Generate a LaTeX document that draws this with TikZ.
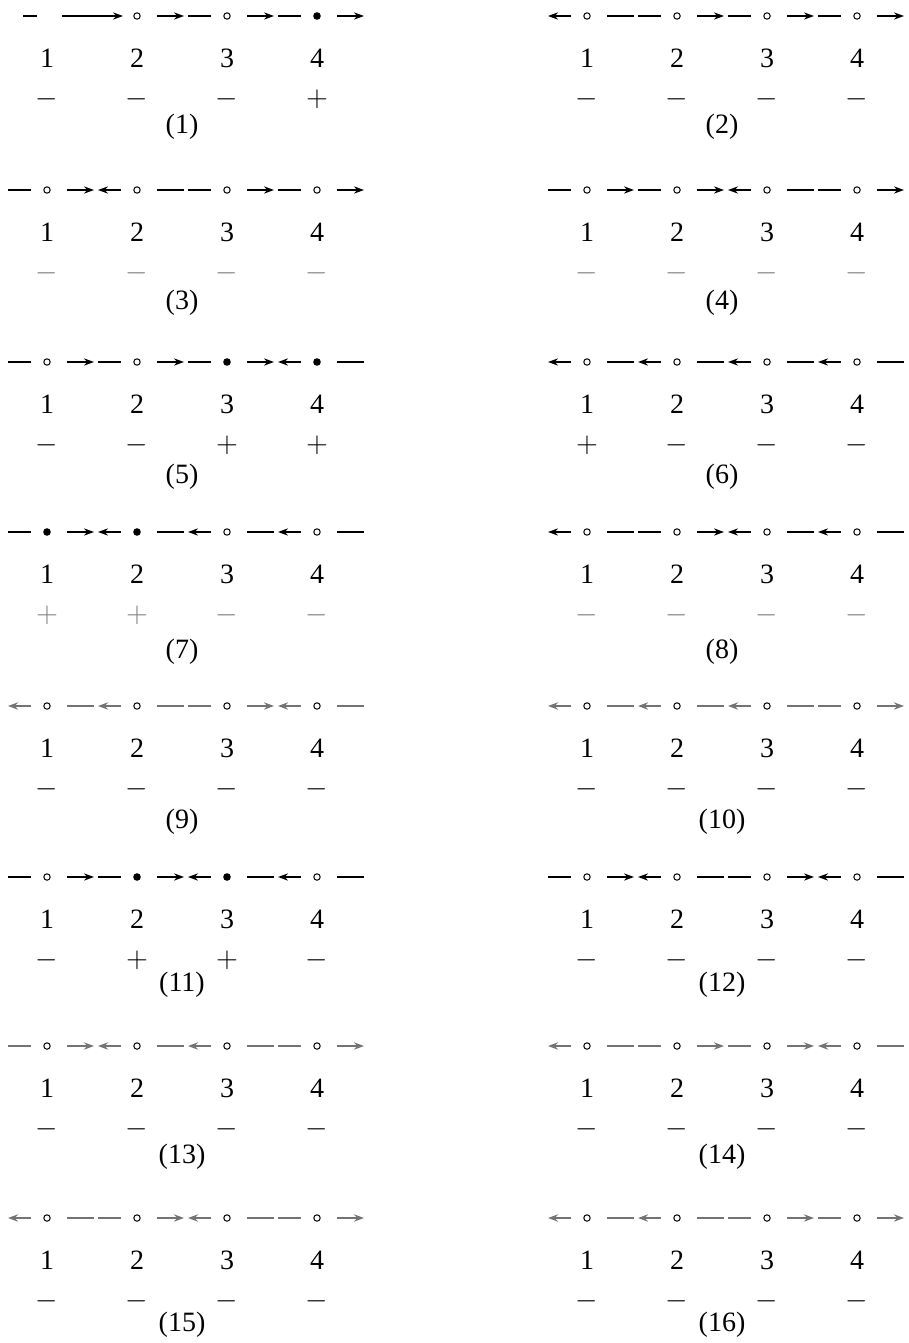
\documentclass[tikz,border=0pt]{standalone}
\usepackage{fontspec}
\setmainfont{Liberation Serif}
\usepackage{tikz}
\usetikzlibrary{arrows.meta,calc}

\tikzset{
  seg/.style={line width=0.65pt},
  sgn/.style={},
  half p/.style={seg},
  half a/.style={seg,->},
  half n/.style={draw=none},
  site o/.style={circle,draw,inner sep=0pt,minimum size=3.2pt,line width=0.5pt},
  site f/.style={circle,fill,inner sep=0pt,minimum size=3.8pt},
  site n/.style={inner sep=0pt,minimum size=0pt},
}

% #2 panel number, #3 first site, #4 label drop, #5 sites dot/left/right/sign
\newcommand{\flowpanel}[5][]{%
  \begin{scope}[#1]
    \foreach \dt/\lh/\rh/\sg [count=\i] in {#5} {
      \node[site \dt] (p#2s\i) at ($#3+(90*\i-90,0)$) {};
      \draw[half \lh] ($(p#2s\i)+(-16,0)$) -- ($(p#2s\i)+(-39,0)$);
      \draw[half \rh] ($(p#2s\i)+(20,0)$) -- ($(p#2s\i)+(47,0)$);
      \node (p#2n\i) at ($(p#2s\i)+(0,42)$) {\i};
      \node[sgn] (p#2g\i) at ($(p#2s\i)+(0,83)$) {$\sg$};
    }
    \node (p#2lbl) at ($(p#2s2)!0.5!(p#2s3)+(0,#4)$) {(#2)};
  \end{scope}}

\begin{document}
\begin{tikzpicture}[x=0.5pt, y=-0.5pt, >={Stealth[length=5pt,width=3.6pt]},
    font=\fontsize{14}{16}\selectfont,
    graysgn/.style={sgn/.style={text=black!50}},
    grayseg/.style={seg/.style={line width=0.9pt,black!55}}]
  \useasboundingbox (0,0) rectangle (909,1343);

  \flowpanel{1}{(47,16)}{111}{n/n/n/-, o/n/a/-, o/p/a/-, f/p/a/+}
  \draw[seg] ($(p1s1)+(-24,0)$) -- ($(p1s1)+(-10,0)$);
  \draw[seg,->] ($(p1s1)+(15,0)$) -- ($(p1s2)+(-14,0)$);
  \flowpanel{2}{(587,16)}{111}{o/a/p/-, o/p/a/-, o/p/a/-, o/p/a/-}

  \flowpanel[graysgn]{3}{(47,190)}{113}{o/p/a/-, o/a/p/-, o/p/a/-, o/p/a/-}
  \flowpanel[graysgn]{4}{(587,190)}{113}{o/p/a/-, o/p/a/-, o/a/p/-, o/p/a/-}

  \flowpanel{5}{(47,362)}{115}{o/p/a/-, o/p/a/-, f/p/a/+, f/a/p/+}
  \flowpanel{6}{(587,362)}{115}{o/a/p/+, o/a/p/-, o/a/p/-, o/a/p/-}

  \flowpanel[graysgn]{7}{(47,532)}{120}{f/p/a/+, f/a/p/+, o/a/p/-, o/a/p/-}
  \flowpanel[graysgn]{8}{(587,532)}{120}{o/a/p/-, o/p/a/-, o/a/p/-, o/a/p/-}

  \flowpanel[grayseg]{9}{(47,706)}{116}{o/a/p/-, o/a/p/-, o/p/a/-, o/a/p/-}
  \flowpanel[grayseg]{10}{(587,706)}{116}{o/a/p/-, o/a/p/-, o/a/p/-, o/p/a/-}

  \flowpanel{11}{(47,877)}{108}{o/p/a/-, f/p/a/+, f/a/p/+, o/a/p/-}
  \flowpanel{12}{(587,877)}{108}{o/p/a/-, o/a/p/-, o/p/a/-, o/a/p/-}

  \flowpanel[grayseg]{13}{(47,1046)}{111}{o/p/a/-, o/a/p/-, o/a/p/-, o/p/a/-}
  \flowpanel[grayseg]{14}{(587,1046)}{111}{o/a/p/-, o/p/a/-, o/p/a/-, o/a/p/-}

  \flowpanel[grayseg]{15}{(47,1218)}{107}{o/a/p/-, o/p/a/-, o/a/p/-, o/p/a/-}
  \flowpanel[grayseg]{16}{(587,1218)}{107}{o/a/p/-, o/a/p/-, o/p/a/-, o/p/a/-}
\end{tikzpicture}
\end{document}
